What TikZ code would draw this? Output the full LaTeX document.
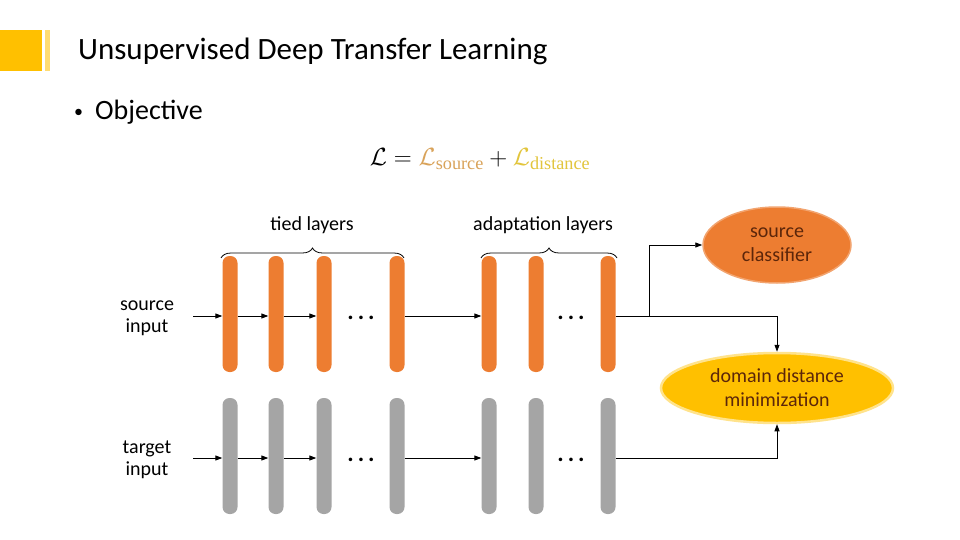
\documentclass[tikz,border=0pt]{standalone}
\usepackage{amsmath}
\usepackage[no-math]{fontspec}
\setmainfont{Carlito}
\usetikzlibrary{shapes.geometric,arrows.meta,decorations.pathreplacing}
\definecolor{ora}{HTML}{ED7D31}
\definecolor{gry}{HTML}{A5A5A5}
\definecolor{yel}{HTML}{FFC000}
\definecolor{srccol}{HTML}{D9A35A}
\definecolor{distcol}{HTML}{E2C53C}
\definecolor{etxt}{HTML}{5C260A}
\newfontfamily\serfont{Liberation Serif}
\begin{document}
\begin{tikzpicture}[x=1pt,y=-1pt,
  bar/.style={rectangle,rounded corners=7pt,minimum width=15pt,minimum height=116pt,inner sep=0pt},
  sbar/.style={bar,fill=ora},
  tbar/.style={bar,fill=gry},
  conn/.style={line width=0.9pt,-{Triangle[length=7pt,width=5pt]}},
  line/.style={line width=0.9pt},
  lbl/.style={font=\fontsize{20}{22}\selectfont,align=center,inner sep=0pt},
  dots/.style={font=\fontsize{24}{24}\selectfont\bfseries,inner sep=0pt},
  brc/.style={decorate,decoration={brace,amplitude=10pt},line width=0.8pt},
  ell/.style={ellipse,font=\fontsize{20}{24}\selectfont,text=etxt,align=center,inner sep=0pt}
]
\useasboundingbox (0,0) rectangle (960,540);
\fill[white] (0,0) rectangle (960,540);
% title
\fill[yel] (0,30) rectangle (42,71);
\fill[yel!55] (45,30) rectangle (50,71);
\node[anchor=west,inner sep=0pt,font=\fontsize{31}{36}\selectfont] (title) at (78,51) {Unsupervised Deep Transfer Learning};
\node[anchor=west,inner sep=0pt,font=\fontsize{28}{30}\selectfont] (obj) at (74,112) {{\fontsize{18}{20}\selectfont\raisebox{2pt}{\textbullet}}\hspace{12pt}Objective};
\node[inner sep=0pt,font=\fontsize{26}{28}\selectfont] (formula) at (480,159)
  {$\mathcal{L} = \textcolor{srccol}{\mathcal{L}_{\text{\serfont source}}} + \textcolor{distcol}{\mathcal{L}_{\text{\serfont distance}}}$};
% source row
\foreach \n/\x in {1/230,2/276,3/324,4/397,5/489,6/536,7/608}{
  \node[sbar] (s\n) at (\x,314) {};
  \node[tbar] (t\n) at (\x,456) {};
}
\node[dots] (sd1) at (361,318) {.\,.\,.};
\node[dots] (sd2) at (571,318) {.\,.\,.};
\node[dots] (td1) at (361,460) {.\,.\,.};
\node[dots] (td2) at (571,460) {.\,.\,.};
% labels
\node[lbl] (sin) at (147,318) {source\\input};
\node[lbl] (tin) at (147,460) {target\\input};
\coordinate (sa) at (193,316);
\coordinate (ta) at (193,458);
\draw[conn] (sa) -- (s1.west|-sa);
\draw[conn] (ta) -- (t1.west|-ta);
\draw[conn] (s1.east|-sa) -- (s2.west|-sa);
\draw[conn] (s2.east|-sa) -- (s3.west|-sa);
\draw[conn] (s4.east|-sa) -- (s5.west|-sa);
\draw[conn] (t1.east|-ta) -- (t2.west|-ta);
\draw[conn] (t2.east|-ta) -- (t3.west|-ta);
\draw[conn] (t4.east|-ta) -- (t5.west|-ta);
% braces
\draw[brc] (221,258) -- (404,258);
\draw[brc] (481,258) -- (617,258);
\node[lbl] (tied) at (312,225) {tied layers};
\node[lbl] (adapt) at (543,225) {adaptation layers};
% ellipses
\node[ell,fill=ora,draw=ora!70!white,line width=1.5pt,minimum width=148pt,minimum height=76pt] (cls) at (777,245) {source\\classifier};
\node[ell,fill=yel,draw=yel!45!white,line width=2.5pt,minimum width=232pt,minimum height=70pt] (dom) at (777,388) {domain distance\\minimization};
% outputs
\coordinate (br) at (649,316);
\draw[line] (s7.east|-sa) -- (br);
\draw[conn] (br) |- (cls.west);
\draw[conn] (br) -| (dom.north);
\draw[conn] (t7.east|-ta) -| (dom.south);
\end{tikzpicture}
\end{document}
